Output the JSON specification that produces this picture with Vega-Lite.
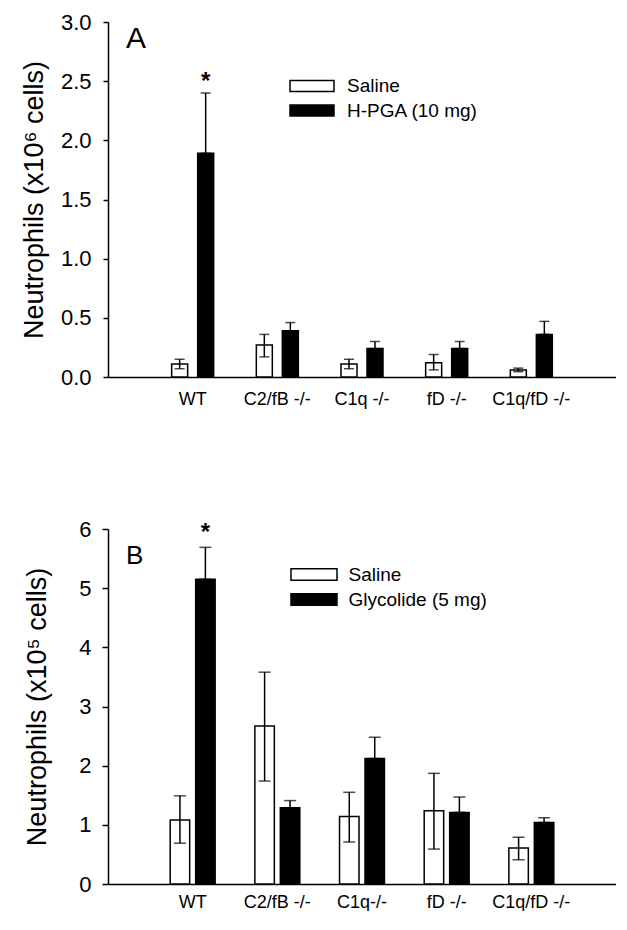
{
  "$schema": "https://vega.github.io/schema/vega-lite/v6.json",
  "background": "white",
  "padding": {"left": 20, "top": 11, "right": 0, "bottom": 0},
  "config": {
    "font": "Liberation Sans",
    "view": {"stroke": null},
    "axis": {"grid": false, "domainColor": "black", "tickColor": "black", "labelColor": "black", "titleColor": "black", "domainWidth": 1.5, "tickWidth": 1.5, "labelFont": "Liberation Sans", "titleFont": "Liberation Sans", "titleFontWeight": "normal"},
    "legend": {"labelFont": "Liberation Sans", "labelColor": "black"}
  },
  "datasets": {
    "a": [
      {"group": "WT", "treatment": "Saline", "value": 0.11, "lo": 0.07, "hi": 0.15, "star": ""},
      {"group": "WT", "treatment": "H-PGA (10 mg)", "value": 1.89, "lo": 1.89, "hi": 2.40, "star": "*"},
      {"group": "C2/fB -/-", "treatment": "Saline", "value": 0.27, "lo": 0.17, "hi": 0.36, "star": ""},
      {"group": "C2/fB -/-", "treatment": "H-PGA (10 mg)", "value": 0.39, "lo": 0.39, "hi": 0.46, "star": ""},
      {"group": "C1q -/-", "treatment": "Saline", "value": 0.11, "lo": 0.07, "hi": 0.15, "star": ""},
      {"group": "C1q -/-", "treatment": "H-PGA (10 mg)", "value": 0.24, "lo": 0.24, "hi": 0.30, "star": ""},
      {"group": "fD -/-", "treatment": "Saline", "value": 0.12, "lo": 0.06, "hi": 0.19, "star": ""},
      {"group": "fD -/-", "treatment": "H-PGA (10 mg)", "value": 0.24, "lo": 0.24, "hi": 0.30, "star": ""},
      {"group": "C1q/fD -/-", "treatment": "Saline", "value": 0.06, "lo": 0.045, "hi": 0.075, "star": ""},
      {"group": "C1q/fD -/-", "treatment": "H-PGA (10 mg)", "value": 0.36, "lo": 0.36, "hi": 0.47, "star": ""}
    ],
    "b": [
      {"group": "WT", "treatment": "Saline", "value": 1.08, "lo": 0.69, "hi": 1.49, "star": ""},
      {"group": "WT", "treatment": "Glycolide (5 mg)", "value": 5.15, "lo": 5.15, "hi": 5.69, "star": "*"},
      {"group": "C2/fB -/-", "treatment": "Saline", "value": 2.67, "lo": 1.74, "hi": 3.58, "star": ""},
      {"group": "C2/fB -/-", "treatment": "Glycolide (5 mg)", "value": 1.29, "lo": 1.29, "hi": 1.41, "star": ""},
      {"group": "C1q-/-", "treatment": "Saline", "value": 1.14, "lo": 0.71, "hi": 1.55, "star": ""},
      {"group": "C1q-/-", "treatment": "Glycolide (5 mg)", "value": 2.12, "lo": 2.12, "hi": 2.48, "star": ""},
      {"group": "fD -/-", "treatment": "Saline", "value": 1.24, "lo": 0.59, "hi": 1.87, "star": ""},
      {"group": "fD -/-", "treatment": "Glycolide (5 mg)", "value": 1.21, "lo": 1.21, "hi": 1.47, "star": ""},
      {"group": "C1q/fD -/-", "treatment": "Saline", "value": 0.61, "lo": 0.41, "hi": 0.79, "star": ""},
      {"group": "C1q/fD -/-", "treatment": "Glycolide (5 mg)", "value": 1.04, "lo": 1.04, "hi": 1.12, "star": ""}
    ]
  },
  "align": "none",
  "spacing": 110,
  "resolve": {
    "scale": {"x": "independent", "y": "independent", "xOffset": "independent", "fill": "independent"},
    "legend": {"fill": "independent"}
  },
  "vconcat": [
    {
      "width": 508,
      "height": 355,
      "encoding": {
        "x": {"field": "group", "type": "nominal", "sort": null, "scale": {"paddingInner": 0, "paddingOuter": 0.5},
              "axis": {"title": null, "labelAngle": 0, "labelFontSize": 18, "ticks": false, "tickSize": 0, "labelPadding": 13}}
      },
      "layer": [
        {
          "data": {"name": "a"},
          "mark": {"type": "bar", "stroke": "black", "strokeWidth": 1.5},
          "encoding": {
            "xOffset": {"field": "treatment", "type": "nominal", "sort": null, "scale": {"paddingInner": 0.385, "paddingOuter": 0.82}},
            "y": {"field": "value", "type": "quantitative", "scale": {"domain": [0, 3], "nice": false},
                  "axis": {"title": "Neutrophils (x10⁶ cells)", "titleFontSize": 27, "labelFontSize": 22, "tickSize": 5, "labelPadding": 12, "titlePadding": 12, "values": [0, 0.5, 1, 1.5, 2, 2.5, 3], "format": ".1f"}},
            "fill": {"field": "treatment", "type": "nominal", "sort": null, "scale": {"range": ["white", "black"]},
                     "legend": {"title": null, "orient": "none", "legendX": 192, "legendY": 52, "padding": 0, "symbolType": "M-2,-0.5L2,-0.5L2,0.5L-2,0.5Z", "symbolSize": 484, "symbolStrokeColor": "black", "symbolStrokeWidth": 1.5, "labelFontSize": 19, "labelOffset": 23, "rowPadding": 2.5}}
          }
        },
        {
          "data": {"name": "a"},
          "mark": {"type": "rule", "color": "black", "strokeWidth": 1.5},
          "encoding": {"xOffset": {"field": "treatment", "type": "nominal", "sort": null}, "y": {"field": "lo", "type": "quantitative"}, "y2": {"field": "hi"}}
        },
        {
          "data": {"name": "a"},
          "mark": {"type": "tick", "color": "black", "size": 10, "thickness": 1.5},
          "encoding": {"xOffset": {"field": "treatment", "type": "nominal", "sort": null}, "y": {"field": "hi", "type": "quantitative"}}
        },
        {
          "data": {"name": "a"},
          "mark": {"type": "tick", "color": "black", "size": 10, "thickness": 1.5},
          "encoding": {"xOffset": {"field": "treatment", "type": "nominal", "sort": null}, "y": {"field": "lo", "type": "quantitative"}}
        },
        {
          "data": {"name": "a"},
          "mark": {"type": "text", "fontSize": 24, "fontWeight": "bold", "color": "black", "baseline": "alphabetic", "dy": -4},
          "encoding": {"xOffset": {"field": "treatment", "type": "nominal", "sort": null}, "y": {"field": "hi", "type": "quantitative"}, "text": {"field": "star"}}
        },
        {
          "data": {"values": [{"label": "A"}]},
          "mark": {"type": "text", "fontSize": 30, "color": "black", "align": "left", "baseline": "alphabetic", "dx": -66.7, "dy": 26},
          "encoding": {"x": {"datum": "WT"}, "y": {"datum": 3}, "text": {"field": "label"}}
        }
      ]
    },
    {
      "width": 508,
      "height": 355,
      "encoding": {
        "x": {"field": "group", "type": "nominal", "sort": null, "scale": {"paddingInner": 0, "paddingOuter": 0.5},
              "axis": {"title": null, "labelAngle": 0, "labelFontSize": 18, "ticks": false, "tickSize": 0, "labelPadding": 9}}
      },
      "layer": [
        {
          "data": {"name": "b"},
          "mark": {"type": "bar", "stroke": "black", "strokeWidth": 1.5},
          "encoding": {
            "xOffset": {"field": "treatment", "type": "nominal", "sort": null, "scale": {"paddingInner": 0.235, "paddingOuter": 0.78}},
            "y": {"field": "value", "type": "quantitative", "scale": {"domain": [0, 6], "nice": false},
                  "axis": {"title": "Neutrophils (x10⁵ cells)", "titleFontSize": 27, "labelFontSize": 22, "tickSize": 6, "labelPadding": 11, "titlePadding": 27, "values": [0, 1, 2, 3, 4, 5, 6], "format": "d"}},
            "fill": {"field": "treatment", "type": "nominal", "sort": null, "scale": {"range": ["white", "black"]},
                     "legend": {"title": null, "orient": "none", "legendX": 193.5, "legendY": 33, "padding": 0, "symbolType": "M-2,-0.5L2,-0.5L2,0.5L-2,0.5Z", "symbolSize": 529, "symbolStrokeColor": "black", "symbolStrokeWidth": 1.5, "labelFontSize": 19, "labelOffset": 22, "rowPadding": 2}}
          }
        },
        {
          "data": {"name": "b"},
          "mark": {"type": "rule", "color": "black", "strokeWidth": 1.5},
          "encoding": {"xOffset": {"field": "treatment", "type": "nominal", "sort": null}, "y": {"field": "lo", "type": "quantitative"}, "y2": {"field": "hi"}}
        },
        {
          "data": {"name": "b"},
          "mark": {"type": "tick", "color": "black", "size": 12, "thickness": 1.5},
          "encoding": {"xOffset": {"field": "treatment", "type": "nominal", "sort": null}, "y": {"field": "hi", "type": "quantitative"}}
        },
        {
          "data": {"name": "b"},
          "mark": {"type": "tick", "color": "black", "size": 12, "thickness": 1.5},
          "encoding": {"xOffset": {"field": "treatment", "type": "nominal", "sort": null}, "y": {"field": "lo", "type": "quantitative"}}
        },
        {
          "data": {"name": "b"},
          "mark": {"type": "text", "fontSize": 24, "fontWeight": "bold", "color": "black", "baseline": "alphabetic", "dy": -7},
          "encoding": {"xOffset": {"field": "treatment", "type": "nominal", "sort": null}, "y": {"field": "hi", "type": "quantitative"}, "text": {"field": "star"}}
        },
        {
          "data": {"values": [{"label": "B"}]},
          "mark": {"type": "text", "fontSize": 26, "color": "black", "align": "left", "baseline": "alphabetic", "dx": -66.7, "dy": 35},
          "encoding": {"x": {"datum": "WT"}, "y": {"datum": 6}, "text": {"field": "label"}}
        }
      ]
    }
  ]
}
